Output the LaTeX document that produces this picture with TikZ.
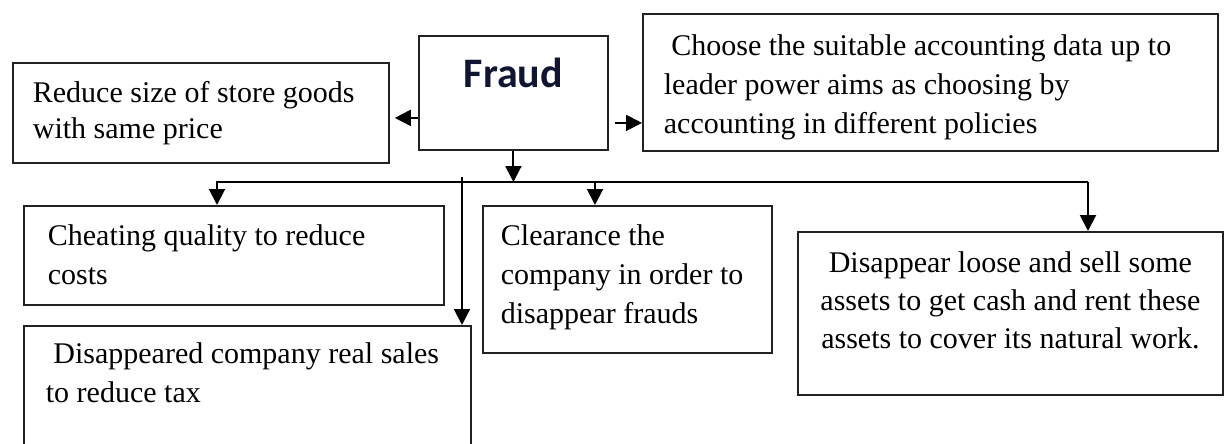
\documentclass[tikz,border=0pt]{standalone}
\usepackage{fontspec}
\setmainfont{Liberation Serif}
\newfontfamily\headfont{Carlito}
\usepackage{xcolor}
\usepackage{tikz}
\usetikzlibrary{arrows.meta}
\definecolor{boxline}{HTML}{222222}
\definecolor{fraudnavy}{HTML}{101632}
\newcommand{\notebox}[4]{
    \node[notebox,#3] (#1) at (#2) {#4};
}
\tikzset{
    notebox/.style={draw=boxline, line width=1.8pt, anchor=north west, inner ysep=0pt, align=flush left, font=\fontsize{30}{39}\selectfont},
    link/.style={-{Triangle[length=16pt,width=16pt]}, line width=2pt}
}

\begin{document}
\begin{tikzpicture}[x=1pt,y=-1pt]
    \useasboundingbox (0,0) rectangle (1226,444);
    \clip (0,0) rectangle (1226,444);

    \notebox{fraud}{418,35}{minimum width=189pt, inner xsep=0pt, align=center, text height=52pt, text depth=62pt, font=\headfont\bfseries\fontsize{42}{48}\selectfont, text=fraudnavy}{Fraud}
    \notebox{reduce}{12,62}{text width=336pt, inner xsep=20pt, text height=40pt, text depth=60pt, font=\fontsize{30}{36}\selectfont}{Reduce size of store goods\\with same price}
    \notebox{choose}{642,13}{text width=533pt, inner xsep=21pt, text height=42pt, text depth=95pt}{\hspace*{0.25em}Choose the suitable accounting data up to\\leader power aims as choosing by\\accounting in different policies}
    \notebox{cheat}{23,205}{text width=372pt, inner xsep=24pt, text height=40pt, text depth=59pt}{Cheating quality to reduce\\costs}
    \notebox{tax}{23,325}{text width=403pt, inner xsep=22pt, text height=38pt, text depth=107pt}{\hspace*{0.25em}Disappeared company real sales\\to reduce tax}
    \notebox{clear}{482,205}{text width=253pt, inner xsep=18pt, text height=40pt, text depth=107pt}{Clearance the\\company in order to\\disappear frauds}
    \notebox{assets}{797,231}{text width=395pt, inner xsep=15pt, align=flush center, text height=41pt, text depth=122pt, font=\fontsize{30}{38}\selectfont}{Disappear loose and sell some\\assets to get cash and rent these\\assets to cover its natural work.}

    % distribution line under Fraud
    \coordinate (busL) at (217,182);
    \coordinate (busM) at (595,182);
    \coordinate (busR) at (1088,182);
    \coordinate (taxtop) at (462,177);

    \draw[link, shorten >=5pt] ([yshift=-25pt]fraud.west) -- ([yshift=-25pt]fraud.west -| reduce.east);
    \draw[link, shorten <=6pt] ([yshift=-30pt]fraud.east) -- ([yshift=-30pt]fraud.east -| choose.west);
    \draw[link] (fraud.south) -- (fraud.south |- busL);
    \draw[link] (busR) -- (busL) -- (busL |- cheat.north);
    \draw[link] (busM) -- (busM |- clear.north);
    \draw[link] (busR) -- (busR |- assets.north);
    \draw[link] (taxtop) -- (taxtop |- tax.north);
\end{tikzpicture}
\end{document}
